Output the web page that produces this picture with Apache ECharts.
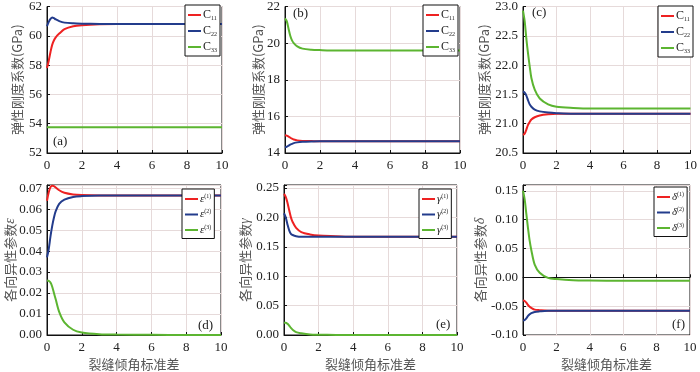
<!DOCTYPE html>
<html>
<head>
<meta charset="utf-8">
<script src="https://cdn.jsdelivr.net/npm/echarts@6/dist/echarts.min.js"></script>
<style>
  html, body { margin: 0; padding: 0; background: #fff; }
  #chart { width: 700px; height: 372px; }
</style>
</head>
<body>
<div id="chart"></div>
<script>
  // 裂缝倾角标准差 (x 采样点)
  var xs = [0, 0.1, 0.2, 0.3, 0.4, 0.5, 0.7, 1, 1.5, 2, 3, 4, 6, 8, 10];

  // (a) 弹性刚度系数 GPa
  var aC11 = [57.8, 58.3, 58.9, 59.4, 59.7, 59.9, 60.15, 60.45, 60.65, 60.72, 60.78, 60.8, 60.8, 60.8, 60.8];
  var aC22 = [60.65, 60.95, 61.15, 61.25, 61.2, 61.12, 61.0, 60.9, 60.85, 60.83, 60.81, 60.8, 60.8, 60.8, 60.8];
  var aC33 = [53.75, 53.75, 53.75, 53.75, 53.75, 53.75, 53.75, 53.75, 53.75, 53.75, 53.75, 53.75, 53.75, 53.75, 53.75];
  // (b)
  var bC11 = [14.97, 14.95, 14.9, 14.84, 14.78, 14.74, 14.69, 14.66, 14.65, 14.64, 14.64, 14.64, 14.64, 14.64, 14.64];
  var bC22 = [14.32, 14.34, 14.4, 14.46, 14.5, 14.54, 14.58, 14.61, 14.63, 14.64, 14.64, 14.64, 14.64, 14.64, 14.64];
  var bC33 = [21.35, 21.2, 20.8, 20.4, 20.15, 20.0, 19.82, 19.7, 19.64, 19.62, 19.6, 19.6, 19.6, 19.6, 19.6];
  // (c)
  var cC11 = [20.81, 20.83, 20.9, 20.98, 21.03, 21.07, 21.11, 21.14, 21.16, 21.17, 21.17, 21.17, 21.17, 21.17, 21.17];
  var cC22 = [21.55, 21.53, 21.48, 21.4, 21.33, 21.29, 21.24, 21.21, 21.19, 21.18, 21.17, 21.17, 21.17, 21.17, 21.17];
  var cC33 = [22.93, 22.75, 22.45, 22.2, 21.98, 21.78, 21.58, 21.43, 21.33, 21.29, 21.27, 21.26, 21.26, 21.26, 21.26];
  // (d) 各向异性参数 ε
  var dE1 = [0.064, 0.068, 0.0705, 0.0712, 0.071, 0.0703, 0.069, 0.0678, 0.067, 0.0667, 0.0665, 0.0665, 0.0665, 0.0665, 0.0665];
  var dE2 = [0.037, 0.041, 0.047, 0.052, 0.056, 0.059, 0.0625, 0.0645, 0.0658, 0.0662, 0.0665, 0.0665, 0.0665, 0.0665, 0.0665];
  var dE3 = [0.026, 0.0258, 0.025, 0.023, 0.02, 0.017, 0.011, 0.006, 0.0025, 0.0012, 0.0004, 0.0002, 0.0001, 0, 0];
  // (e) γ
  var eG1 = [0.24, 0.235, 0.225, 0.212, 0.2, 0.192, 0.182, 0.175, 0.171, 0.169, 0.168, 0.167, 0.167, 0.167, 0.167];
  var eG2 = [0.207, 0.2, 0.188, 0.178, 0.172, 0.17, 0.168, 0.167, 0.167, 0.167, 0.167, 0.167, 0.167, 0.167, 0.167];
  var eG3 = [0.021, 0.021, 0.019, 0.016, 0.012, 0.009, 0.005, 0.003, 0.001, 0.0005, 0.0002, 0, 0, 0, 0];
  // (f) δ
  var fD1 = [-0.04, -0.041, -0.044, -0.048, -0.051, -0.053, -0.056, -0.057, -0.058, -0.058, -0.058, -0.058, -0.058, -0.058, -0.058];
  var fD2 = [-0.075, -0.074, -0.071, -0.067, -0.064, -0.062, -0.06, -0.059, -0.058, -0.058, -0.058, -0.058, -0.058, -0.058, -0.058];
  var fD3 = [0.15, 0.135, 0.11, 0.085, 0.063, 0.047, 0.022, 0.008, -0.001, -0.003, -0.005, -0.0055, -0.006, -0.006, -0.006];

  var colors = ['#ee2222', '#233c8c', '#5cb531'];
  var serif = 'Liberation Serif';
  var cjk = 'Noto Sans CJK SC';

  var panels = [
    { key: 'a', grid: { left: 47, top: 4, width: 175, height: 149 }, y: [52, 62, 2, 0], data: [aC11, aC22, aC33],
      sym: 'C', yname: '弹性刚度系数(GPa)', gap: 23, legend: { left: 185, top: 5 }, tag: [53, 143] },
    { key: 'b', grid: { left: 285, top: 4, width: 175, height: 149 }, y: [14, 22, 2, 0], data: [bC11, bC22, bC33],
      sym: 'C', yname: '弹性刚度系数(GPa)', gap: 20, legend: { left: 423, top: 5 }, tag: [293, 15] },
    { key: 'c', grid: { left: 523, top: 4, width: 170, height: 149 }, y: [20.5, 23, 0.5, 1], data: [cC11, cC22, cC33],
      sym: 'C', yname: '弹性刚度系数(GPa)', gap: 32, legend: { left: 658, top: 6 }, tag: [532, 14] },
    { key: 'd', grid: { left: 47, top: 185, width: 174, height: 150 }, y: [0, 0.0715, 0.01, 2], data: [dE1, dE2, dE3],
      sym: 'ε', yname: '各向异性参数{i|ε}', gap: 30, legend: { left: 182, top: 189 }, tag: [198, 327] },
    { key: 'e', grid: { left: 284, top: 185, width: 173, height: 150 }, y: [0, 0.255, 0.05, 2], data: [eG1, eG2, eG3],
      sym: 'γ', yname: '各向异性参数{i|γ}', gap: 32, legend: { left: 419, top: 189 }, tag: [436, 326] },
    { key: 'f', grid: { left: 523, top: 185, width: 167, height: 150 }, y: [-0.1, 0.16, 0.05, 2], data: [fD1, fD2, fD3],
      sym: 'δ', yname: '各向异性参数{i|δ}', gap: 36, legend: { left: 654, top: 187 }, tag: [672, 326] }
  ];

  function legendLabel(sym, idx) {
    if (sym === 'C') return '{m|C}{s|' + idx + idx + '}';
    return '{g|' + sym + '}{p|(' + idx + ')}';
  }

  var grids = [], xAxes = [], yAxes = [], series = [], legends = [], graphics = [];

  panels.forEach(function (p, i) {
    grids.push(Object.assign({ show: true, borderColor: '#111', borderWidth: 1, containLabel: false }, p.grid));
    var bottomRow = i >= 3;
    xAxes.push({
      gridIndex: i, type: 'value', min: 0, max: 10, interval: 2,
      name: bottomRow ? '裂缝倾角标准差' : '', nameLocation: 'middle', nameGap: 23,
      nameMoveOverlap: false,
      nameTextStyle: { fontFamily: cjk, fontSize: 13, color: '#555' },
      axisLine: { lineStyle: { color: '#111' } },
      axisTick: { inside: true, length: 3, lineStyle: { color: '#111' } },
      axisLabel: { fontFamily: serif, fontSize: 13, color: '#222', margin: 6 },
      splitLine: { lineStyle: { color: '#e6dada' } }
    });
    var step = p.y[2], dec = p.y[3];
    yAxes.push({
      gridIndex: i, type: 'value', min: p.y[0], max: p.y[1], interval: step,
      name: p.yname, nameLocation: 'middle', nameGap: p.gap, nameRotate: 90,
      nameMoveOverlap: false,
      nameTextStyle: { fontFamily: cjk, fontSize: 13, color: '#555',
        rich: { i: { fontFamily: serif, fontStyle: 'italic', fontSize: 14, color: '#555' } } },
      axisLine: { lineStyle: { color: '#111' } },
      axisTick: { inside: true, length: 3, lineStyle: { color: '#111' } },
      axisLabel: {
        fontFamily: serif, fontSize: 13, color: '#222', margin: 5,
        formatter: function (v) {
          var k = v / step;
          if (Math.abs(k - Math.round(k)) > 1e-6) return '';
          return v.toFixed(dec);
        }
      },
      splitLine: { lineStyle: { color: '#e6dada' } }
    });
    var legendNames = [];
    p.data.forEach(function (d, j) {
      var nm = p.key + ':' + (j + 1);
      legendNames.push(nm);
      series.push({
        name: nm, type: 'line', xAxisIndex: i, yAxisIndex: i,
        data: xs.map(function (x, k) { return [x, d[k]]; }),
        smooth: 0.3, symbol: 'none',
        lineStyle: { color: colors[j], width: 2 }, itemStyle: { color: colors[j] }, z: 3
      });
    });
    legends.push({
      data: legendNames, orient: 'vertical', left: p.legend.left, top: p.legend.top,
      backgroundColor: '#fff', borderColor: '#111', borderWidth: 1, padding: [4, 3, 3, 3],
      icon: 'rect', itemWidth: 13, itemHeight: 2, itemGap: 4,
      formatter: function (n) { return legendLabel(p.sym, n.split(':')[1]); },
      textStyle: {
        color: '#222', padding: [0, 0, 0, -3],
        rich: {
          m: { fontFamily: serif, fontSize: 12, lineHeight: 12 },
          s: { fontFamily: serif, fontSize: 6, lineHeight: 6, verticalAlign: 'bottom' },
          g: { fontFamily: serif, fontStyle: 'italic', fontSize: 11, lineHeight: 12 },
          p: { fontFamily: serif, fontSize: 6, lineHeight: 6, verticalAlign: 'top' }
        }
      }
    });
    graphics.push({
      type: 'text', left: p.tag[0], top: p.tag[1] - 8, z: 10,
      style: { text: '(' + p.key + ')', fontFamily: serif, fontSize: 13, fill: '#222' }
    });
  });

  var chart = echarts.init(document.getElementById('chart'));
  chart.setOption({
    animation: false,
    textStyle: { fontFamily: serif },
    grid: grids,
    xAxis: xAxes,
    yAxis: yAxes,
    legend: legends,
    series: series,
    graphic: graphics
  });
</script>
</body>
</html>
